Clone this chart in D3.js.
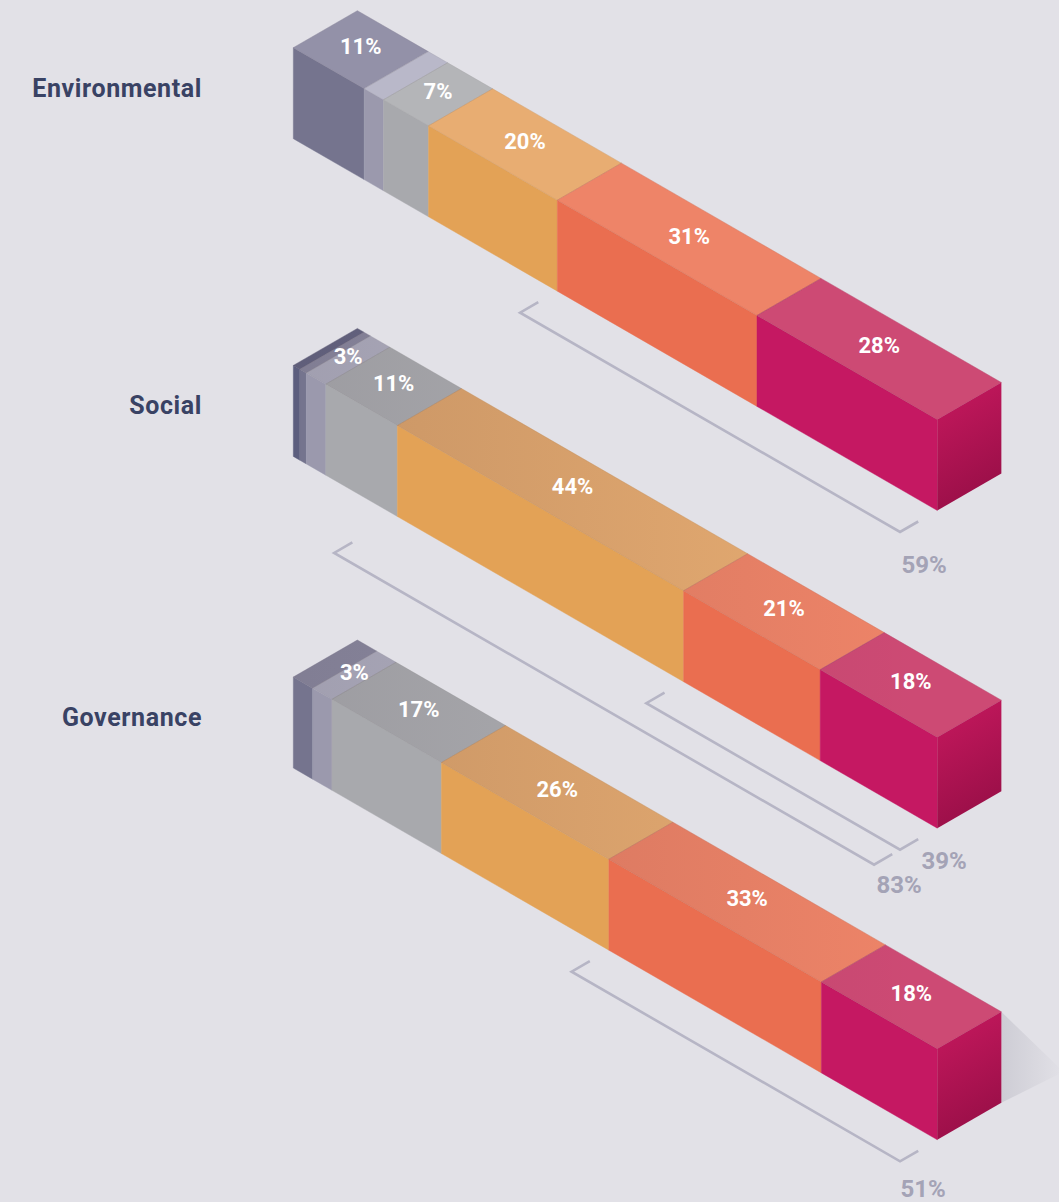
<!DOCTYPE html>
<html>
<head>
<meta charset="utf-8">
<script src="https://cdn.jsdelivr.net/npm/d3@7"></script>
<style>
  html, body { margin: 0; padding: 0; background: #e2e1e7; }
  svg { display: block; }
</style>
</head>
<body>
<svg id="chart" width="1059" height="1202"></svg>
<script>
// ---- data -------------------------------------------------------------
const categories = ["Environmental", "Social", "Governance"];

// share of answers (%) per response level, left to right along each bar
const environmental = [0, 11, 3, 7, 20, 31, 28];
const social        = [1, 1, 3, 11, 44, 21, 18];
const governance    = [0, 3, 3, 17, 26, 33, 18];

// response levels that carry a value label on the bar top
const labelledEnvironmental = [1, 3, 4, 5, 6];
const labelledSocial        = [2, 3, 4, 5, 6];
const labelledGovernance    = [2, 3, 4, 5, 6];

// summary brackets: category and first level summed to the end of the bar
const bracketCategories = ["Environmental", "Social", "Social", "Governance"];
const bracketFromLevel  = [5, 5, 4, 5];

// colours per response level
const frontColours = ["#5c5e7e", "#75748e", "#9b99ad", "#a8a9ad", "#e3a256", "#ea6e50", "#c51862"];
const topColours   = ["#6c6c8a", "#9391a8", "#b9b8c9", "#b4b5b8", "#e8ad72", "#ee8468", "#cd4a74"];

// ---- layout -----------------------------------------------------------
const svg = d3.select("#chart");
const cos30 = Math.cos(Math.PI / 6), sin30 = 0.5;
const barLen = 743.6, barDepth = 74, barHeight = 91;
const barLeft = 293.3;
const barTop = d3.scaleOrdinal().domain(categories).range([47.7, 365.4, 677]);

const valuesBy = { Environmental: environmental, Social: social, Governance: governance };
const labelledBy = { Environmental: labelledEnvironmental, Social: labelledSocial, Governance: labelledGovernance };

// isometric projection: a = along the bar, b = depth (backwards), h = drop from top
function iso(ox, oy, a, b, h) {
  return [ox + (a + b) * cos30, oy + (a - b) * sin30 + h];
}
const poly = pts => "M" + pts.map(p => p[0].toFixed(2) + "," + p[1].toFixed(2)).join("L") + "Z";

const defs = svg.append("defs");

// end face of each bar: magenta darkening downwards
const endGrad = defs.append("linearGradient").attr("id", "endFace")
  .attr("x1", 0).attr("y1", 0).attr("x2", 0.3).attr("y2", 1);
endGrad.append("stop").attr("offset", 0).attr("stop-color", "#c8195f");
endGrad.append("stop").attr("offset", 1).attr("stop-color", "#9a0f48");

// soft shade on the tops of the lower bars
categories.forEach((c, i) => {
  const g = defs.append("linearGradient").attr("id", "topShade" + i)
    .attr("gradientUnits", "userSpaceOnUse")
    .attr("x1", barLeft).attr("y1", 0).attr("x2", 920).attr("y2", 0);
  const k = i === 0 ? 0 : 1;
  g.append("stop").attr("offset", 0).attr("stop-color", "#1a1020").attr("stop-opacity", 0.15 * k);
  g.append("stop").attr("offset", 0.28).attr("stop-color", "#1a1020").attr("stop-opacity", 0.11 * k);
  g.append("stop").attr("offset", 1).attr("stop-color", "#1a1020").attr("stop-opacity", 0);
});

// floor shadow beside the last bar
const shGrad = defs.append("linearGradient").attr("id", "floorShadow")
  .attr("x1", 0).attr("y1", 0).attr("x2", 1).attr("y2", 0);
shGrad.append("stop").attr("offset", 0).attr("stop-color", "#5a5a6e").attr("stop-opacity", 0.15);
shGrad.append("stop").attr("offset", 1).attr("stop-color", "#5a5a6e").attr("stop-opacity", 0);

const lastCat = categories[categories.length - 1];
{
  const oy = barTop(lastCat);
  const p1 = iso(barLeft, oy, barLen, barDepth, 0);
  const p2 = iso(barLeft, oy, barLen, barDepth, barHeight);
  const tip = [p1[0] + 62, p1[1] + 60];
  svg.append("path").attr("d", poly([p1, tip, p2])).attr("fill", "url(#floorShadow)");
}

// ---- brackets on the floor -------------------------------------------
const ringOffset = [43, 73];
const tickLen = 21;
const labelNudge = [[24, 32], [44, 11], [25, 20], [23, 27]];

const brackets = bracketCategories.map((cat, i) => {
  const same = bracketCategories
    .map((c, j) => ({ c, j }))
    .filter(d => d.c === cat)
    .sort((a, b) => bracketFromLevel[b.j] - bracketFromLevel[a.j]);
  const ring = same.findIndex(d => d.j === i);
  const vals = valuesBy[cat];
  const share = d3.sum(vals.slice(bracketFromLevel[i]));
  return { cat, from: bracketFromLevel[i], ring, share, i };
});

const bracketG = svg.append("g");
brackets.forEach(b => {
  const vals = valuesBy[b.cat];
  const total = d3.sum(vals);
  const along = d3.scaleLinear().domain([0, total]).range([0, barLen]);
  const start = along(d3.sum(vals.slice(0, b.from)));
  const end = along(total);
  const oy = barTop(b.cat);
  const d = ringOffset[b.ring];
  const pts = [
    iso(barLeft, oy, start, -d + tickLen, barHeight),
    iso(barLeft, oy, start, -d, barHeight),
    iso(barLeft, oy, end, -d, barHeight),
    iso(barLeft, oy, end, -d + tickLen, barHeight)
  ];
  bracketG.append("path")
    .attr("d", "M" + pts.map(p => p.join(",")).join("L"))
    .attr("fill", "none").attr("stroke", "#b6b5c5").attr("stroke-width", 2.6)
    .attr("stroke-linejoin", "miter");
  const corner = pts[2];
  const n = labelNudge[b.i];
  bracketG.append("text")
    .attr("x", corner[0] + n[0]).attr("y", corner[1] + n[1])
    .attr("dy", "0.36em")
    .attr("text-anchor", "middle")
    .attr("font-family", "Roboto, 'DejaVu Sans', sans-serif")
    .attr("font-weight", 700).attr("font-size", 24)
    .attr("fill", "#a4a3b6")
    .text(b.share + "%");
});

// ---- bars --------------------------------------------------------------
categories.forEach((cat, ci) => {
  const vals = valuesBy[cat];
  const total = d3.sum(vals);
  const along = d3.scaleLinear().domain([0, total]).range([0, barLen]);
  const oy = barTop(cat);
  const starts = d3.cumsum([0].concat(vals.slice(0, -1)));
  const segs = vals.map((v, k) => ({ k, v, a0: along(starts[k]), a1: along(starts[k] + v) }))
    .filter(s => s.v > 0);

  const g = svg.append("g").attr("class", "bar");

  // front faces
  g.selectAll("path.front").data(segs).join("path").attr("class", "front")
    .attr("d", s => poly([
      iso(barLeft, oy, s.a0, 0, 0), iso(barLeft, oy, s.a1, 0, 0),
      iso(barLeft, oy, s.a1, 0, barHeight), iso(barLeft, oy, s.a0, 0, barHeight)
    ]))
    .attr("fill", s => frontColours[s.k])
    .attr("stroke", s => frontColours[s.k]).attr("stroke-width", 0.4);

  // top faces
  const topPath = s => poly([
    iso(barLeft, oy, s.a0, 0, 0), iso(barLeft, oy, s.a1, 0, 0),
    iso(barLeft, oy, s.a1, barDepth, 0), iso(barLeft, oy, s.a0, barDepth, 0)
  ]);
  g.selectAll("path.top").data(segs).join("path").attr("class", "top")
    .attr("d", topPath)
    .attr("fill", s => topColours[s.k])
    .attr("stroke", s => topColours[s.k]).attr("stroke-width", 0.4);
  g.append("path")
    .attr("d", poly([
      iso(barLeft, oy, 0, 0, 0), iso(barLeft, oy, barLen, 0, 0),
      iso(barLeft, oy, barLen, barDepth, 0), iso(barLeft, oy, 0, barDepth, 0)
    ]))
    .attr("fill", "url(#topShade" + ci + ")");
  // faint edges between top faces and along the front edge
  g.selectAll("path.edge").data(segs).join("path").attr("class", "edge")
    .attr("d", topPath)
    .attr("fill", "none").attr("stroke", "rgba(70,50,60,0.10)").attr("stroke-width", 0.7);

  // end face
  g.append("path")
    .attr("d", poly([
      iso(barLeft, oy, barLen, 0, 0), iso(barLeft, oy, barLen, barDepth, 0),
      iso(barLeft, oy, barLen, barDepth, barHeight), iso(barLeft, oy, barLen, 0, barHeight)
    ]))
    .attr("fill", "url(#endFace)");

  // value labels on the tops
  const labelled = labelledBy[cat];
  g.selectAll("text.val").data(segs.filter(s => labelled.includes(s.k))).join("text")
    .attr("class", "val")
    .attr("x", s => iso(barLeft, oy, (s.a0 + s.a1) / 2, barDepth / 2, 0)[0])
    .attr("y", s => iso(barLeft, oy, (s.a0 + s.a1) / 2, barDepth / 2, 0)[1] - 3.5)
    .attr("dy", "0.36em")
    .attr("text-anchor", "middle")
    .attr("font-family", "Roboto, 'DejaVu Sans', sans-serif")
    .attr("font-weight", 700).attr("font-size", 22)
    .attr("fill", "#ffffff")
    .text(s => s.v + "%");

  // category name
  svg.append("text")
    .attr("x", 202).attr("y", oy + 49)
    .attr("text-anchor", "end")
    .attr("font-family", "Roboto, 'DejaVu Sans', sans-serif")
    .attr("font-weight", 700).attr("font-size", 25)
    .attr("letter-spacing", 0.6)
    .attr("fill", "#394264")
    .text(cat);
});
</script>
</body>
</html>
